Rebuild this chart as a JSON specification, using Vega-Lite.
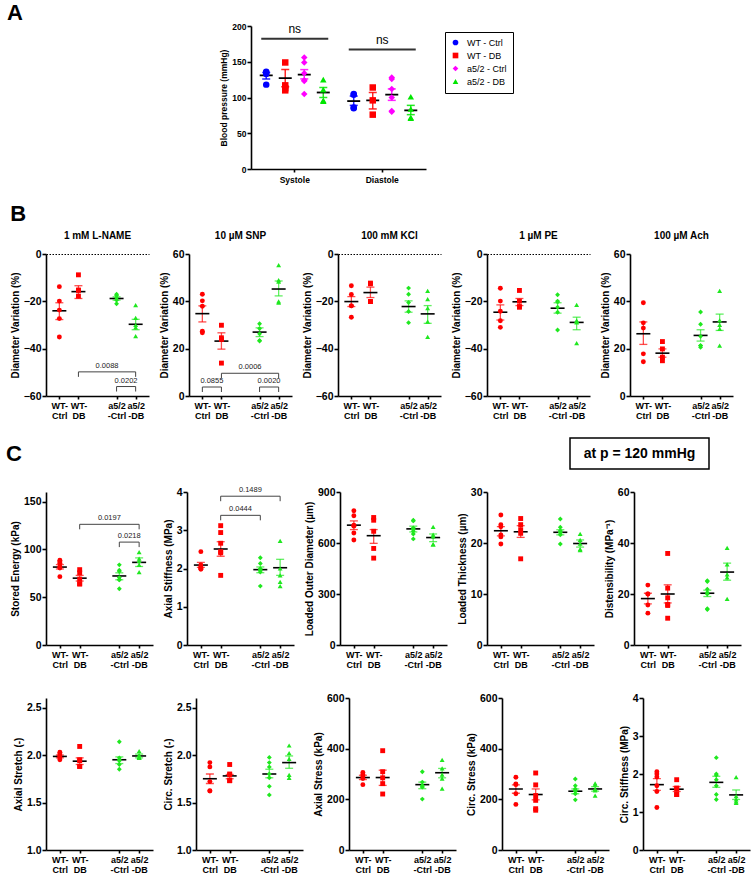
{
"$schema":"https://vega.github.io/schema/vega-lite/v6.json",
"padding":{"left":6,"top":1,"right":2,"bottom":0},
"config":{
 "view":{"stroke":null},
 "font":"Liberation Sans",
 "axis":{"domainColor":"#000","domainWidth":1.6,"tickColor":"#000","tickWidth":1.6,"tickSize":4,"labelColor":"#000","labelFont":"Liberation Sans","labelFontWeight":"bold","labelFontSize":10.5,"labelPadding":1,"titleFont":"Liberation Sans","titleFontWeight":"bold","titleFontSize":10,"titleColor":"#000","titlePadding":3,"grid":false},
 "axisX":{"labelFontSize":9,"tickSize":3,"labelPadding":2,"labelLineHeight":10.5},
 "title":{"font":"Liberation Sans","fontSize":10,"fontWeight":"bold","color":"#000","offset":8},
 "text":{"font":"Liberation Sans","color":"#000"}
},
"datasets":{
 "apts":[
  {"c":"Systole","g":"WT - Ctrl","v":136},{"c":"Systole","g":"WT - Ctrl","v":135},{"c":"Systole","g":"WT - Ctrl","v":133},{"c":"Systole","g":"WT - Ctrl","v":118},
  {"c":"Systole","g":"WT - DB","v":149},{"c":"Systole","g":"WT - DB","v":117},{"c":"Systole","g":"WT - DB","v":113},{"c":"Systole","g":"WT - DB","v":110},
  {"c":"Systole","g":"a5/2 - Ctrl","v":156},{"c":"Systole","g":"a5/2 - Ctrl","v":149},{"c":"Systole","g":"a5/2 - Ctrl","v":134},{"c":"Systole","g":"a5/2 - Ctrl","v":124},{"c":"Systole","g":"a5/2 - Ctrl","v":123},{"c":"Systole","g":"a5/2 - Ctrl","v":105},
  {"c":"Systole","g":"a5/2 - DB","v":125},{"c":"Systole","g":"a5/2 - DB","v":111},{"c":"Systole","g":"a5/2 - DB","v":96},{"c":"Systole","g":"a5/2 - DB","v":95},
  {"c":"Diastole","g":"WT - Ctrl","v":105},{"c":"Diastole","g":"WT - Ctrl","v":104},{"c":"Diastole","g":"WT - Ctrl","v":86},{"c":"Diastole","g":"WT - Ctrl","v":85},
  {"c":"Diastole","g":"WT - DB","v":114},{"c":"Diastole","g":"WT - DB","v":96},{"c":"Diastole","g":"WT - DB","v":76},
  {"c":"Diastole","g":"a5/2 - Ctrl","v":128},{"c":"Diastole","g":"a5/2 - Ctrl","v":126},{"c":"Diastole","g":"a5/2 - Ctrl","v":112},{"c":"Diastole","g":"a5/2 - Ctrl","v":100},{"c":"Diastole","g":"a5/2 - Ctrl","v":81},{"c":"Diastole","g":"a5/2 - Ctrl","v":80},
  {"c":"Diastole","g":"a5/2 - DB","v":101},{"c":"Diastole","g":"a5/2 - DB","v":84},{"c":"Diastole","g":"a5/2 - DB","v":72},{"c":"Diastole","g":"a5/2 - DB","v":71}
 ],
 "asm":[
  {"c":"Systole","g":"WT - Ctrl","m":131,"lo":126,"hi":135},
  {"c":"Systole","g":"WT - DB","m":127,"lo":115,"hi":139},
  {"c":"Systole","g":"a5/2 - Ctrl","m":132,"lo":126,"hi":139},
  {"c":"Systole","g":"a5/2 - DB","m":107,"lo":100,"hi":114},
  {"c":"Diastole","g":"WT - Ctrl","m":95,"lo":89,"hi":102},
  {"c":"Diastole","g":"WT - DB","m":96,"lo":84,"hi":107},
  {"c":"Diastole","g":"a5/2 - Ctrl","m":104,"lo":96,"hi":112},
  {"c":"Diastole","g":"a5/2 - DB","m":82,"lo":76,"hi":89}
 ],
 "ans":[{"c":"Systole","y":182,"t":"ns"},{"c":"Diastole","y":167,"t":"ns"}],
 "pts":[
  {"p":"B1","g":"WC","v":-13.8},{"p":"B1","g":"WC","v":-19.9},{"p":"B1","g":"WC","v":-23.7},{"p":"B1","g":"WC","v":-27.3},{"p":"B1","g":"WC","v":-35.1},
  {"p":"B1","g":"WD","v":-8.8},{"p":"B1","g":"WD","v":-15.3},{"p":"B1","g":"WD","v":-15.3},{"p":"B1","g":"WD","v":-17.8},
  {"p":"B1","g":"AC","v":-17},{"p":"B1","g":"AC","v":-17.5},{"p":"B1","g":"AC","v":-18.5},{"p":"B1","g":"AC","v":-19.5},{"p":"B1","g":"AC","v":-21},
  {"p":"B1","g":"AD","v":-21.6},{"p":"B1","g":"AD","v":-27},{"p":"B1","g":"AD","v":-30},{"p":"B1","g":"AD","v":-31},{"p":"B1","g":"AD","v":-34.7},
  {"p":"B2","g":"WC","v":43},{"p":"B2","g":"WC","v":40.2},{"p":"B2","g":"WC","v":37.9},{"p":"B2","g":"WC","v":27.4},{"p":"B2","g":"WC","v":26.7},
  {"p":"B2","g":"WD","v":29.9},{"p":"B2","g":"WD","v":24.6},{"p":"B2","g":"WD","v":23.9},{"p":"B2","g":"WD","v":13.9},
  {"p":"B2","g":"AC","v":30.5},{"p":"B2","g":"AC","v":28.5},{"p":"B2","g":"AC","v":26.3},{"p":"B2","g":"AC","v":23.5},{"p":"B2","g":"AC","v":23.2},
  {"p":"B2","g":"AD","v":55.3},{"p":"B2","g":"AD","v":49},{"p":"B2","g":"AD","v":48.3},{"p":"B2","g":"AD","v":40},{"p":"B2","g":"AD","v":39.5},
  {"p":"B3","g":"WC","v":-13.4},{"p":"B3","g":"WC","v":-17.1},{"p":"B3","g":"WC","v":-21.9},{"p":"B3","g":"WC","v":-21.9},{"p":"B3","g":"WC","v":-26.7},
  {"p":"B3","g":"WD","v":-12.3},{"p":"B3","g":"WD","v":-12.6},{"p":"B3","g":"WD","v":-20.1},{"p":"B3","g":"WD","v":-20.1},
  {"p":"B3","g":"AC","v":-14.4},{"p":"B3","g":"AC","v":-17},{"p":"B3","g":"AC","v":-20.5},{"p":"B3","g":"AC","v":-24.3},{"p":"B3","g":"AC","v":-29},
  {"p":"B3","g":"AD","v":-15.6},{"p":"B3","g":"AD","v":-19.1},{"p":"B3","g":"AD","v":-22.9},{"p":"B3","g":"AD","v":-28.6},{"p":"B3","g":"AD","v":-35},
  {"p":"B4","g":"WC","v":-14.5},{"p":"B4","g":"WC","v":-19.9},{"p":"B4","g":"WC","v":-24.2},{"p":"B4","g":"WC","v":-28.2},{"p":"B4","g":"WC","v":-31},
  {"p":"B4","g":"WD","v":-15.4},{"p":"B4","g":"WD","v":-19.9},{"p":"B4","g":"WD","v":-22.2},{"p":"B4","g":"WD","v":-22.5},
  {"p":"B4","g":"AC","v":-17.2},{"p":"B4","g":"AC","v":-19.9},{"p":"B4","g":"AC","v":-20.3},{"p":"B4","g":"AC","v":-22.5},{"p":"B4","g":"AC","v":-24.6},{"p":"B4","g":"AC","v":-32.1},
  {"p":"B4","g":"AD","v":-21.5},{"p":"B4","g":"AD","v":-28.2},{"p":"B4","g":"AD","v":-28.4},{"p":"B4","g":"AD","v":-28.9},{"p":"B4","g":"AD","v":-37.7},
  {"p":"B5","g":"WC","v":39.4},{"p":"B5","g":"WC","v":30.9},{"p":"B5","g":"WC","v":28.7},{"p":"B5","g":"WC","v":17.8},{"p":"B5","g":"WC","v":14.5},
  {"p":"B5","g":"WD","v":23},{"p":"B5","g":"WD","v":19.9},{"p":"B5","g":"WD","v":16.4},{"p":"B5","g":"WD","v":14.9},
  {"p":"B5","g":"AC","v":35.5},{"p":"B5","g":"AC","v":30.3},{"p":"B5","g":"AC","v":25.2},{"p":"B5","g":"AC","v":21.3},{"p":"B5","g":"AC","v":21.3},{"p":"B5","g":"AC","v":20.6},
  {"p":"B5","g":"AD","v":44.4},{"p":"B5","g":"AD","v":32},{"p":"B5","g":"AD","v":30.1},{"p":"B5","g":"AD","v":28.4},{"p":"B5","g":"AD","v":21.3},
  {"p":"C1","g":"WC","v":88.7},{"p":"C1","g":"WC","v":87},{"p":"C1","g":"WC","v":85.5},{"p":"C1","g":"WC","v":81.5},{"p":"C1","g":"WC","v":81.5},{"p":"C1","g":"WC","v":80.5},{"p":"C1","g":"WC","v":71.5},
  {"p":"C1","g":"WD","v":78.8},{"p":"C1","g":"WD","v":75.5},{"p":"C1","g":"WD","v":68.9},{"p":"C1","g":"WD","v":63.9},{"p":"C1","g":"WD","v":63.9},
  {"p":"C1","g":"AC","v":83.8},{"p":"C1","g":"AC","v":78.1},{"p":"C1","g":"AC","v":77.2},{"p":"C1","g":"AC","v":70.5},{"p":"C1","g":"AC","v":68.2},{"p":"C1","g":"AC","v":68.2},{"p":"C1","g":"AC","v":58.9},
  {"p":"C1","g":"AD","v":97},{"p":"C1","g":"AD","v":90.4},{"p":"C1","g":"AD","v":88.1},{"p":"C1","g":"AD","v":83.8},{"p":"C1","g":"AD","v":76.2},
  {"p":"C2","g":"WC","v":2.44},{"p":"C2","g":"WC","v":2.09},{"p":"C2","g":"WC","v":2.04},{"p":"C2","g":"WC","v":2.02},{"p":"C2","g":"WC","v":2.0},{"p":"C2","g":"WC","v":1.98},
  {"p":"C2","g":"WD","v":3.12},{"p":"C2","g":"WD","v":2.94},{"p":"C2","g":"WD","v":2.66},{"p":"C2","g":"WD","v":2.44},{"p":"C2","g":"WD","v":2.41},{"p":"C2","g":"WD","v":1.82},
  {"p":"C2","g":"AC","v":2.28},{"p":"C2","g":"AC","v":2.13},{"p":"C2","g":"AC","v":2.0},{"p":"C2","g":"AC","v":1.96},{"p":"C2","g":"AC","v":1.96},{"p":"C2","g":"AC","v":1.91},{"p":"C2","g":"AC","v":1.54},
  {"p":"C2","g":"AD","v":2.72},{"p":"C2","g":"AD","v":2.0},{"p":"C2","g":"AD","v":1.82},{"p":"C2","g":"AD","v":1.65},{"p":"C2","g":"AD","v":1.54},
  {"p":"C3","g":"WC","v":790},{"p":"C3","g":"WC","v":760},{"p":"C3","g":"WC","v":705},{"p":"C3","g":"WC","v":699},{"p":"C3","g":"WC","v":659},{"p":"C3","g":"WC","v":618},
  {"p":"C3","g":"WD","v":750},{"p":"C3","g":"WD","v":734},{"p":"C3","g":"WD","v":669},{"p":"C3","g":"WD","v":568},{"p":"C3","g":"WD","v":511},
  {"p":"C3","g":"AC","v":734},{"p":"C3","g":"AC","v":730},{"p":"C3","g":"AC","v":689},{"p":"C3","g":"AC","v":683},{"p":"C3","g":"AC","v":679},{"p":"C3","g":"AC","v":669},{"p":"C3","g":"AC","v":653},{"p":"C3","g":"AC","v":624},
  {"p":"C3","g":"AD","v":695},{"p":"C3","g":"AD","v":649},{"p":"C3","g":"AD","v":639},{"p":"C3","g":"AD","v":592},{"p":"C3","g":"AD","v":592},
  {"p":"C4","g":"WC","v":25.5},{"p":"C4","g":"WC","v":23.6},{"p":"C4","g":"WC","v":23.2},{"p":"C4","g":"WC","v":21.6},{"p":"C4","g":"WC","v":21.2},{"p":"C4","g":"WC","v":19.8},
  {"p":"C4","g":"WD","v":24.8},{"p":"C4","g":"WD","v":23.6},{"p":"C4","g":"WD","v":22.6},{"p":"C4","g":"WD","v":21.9},{"p":"C4","g":"WD","v":16.9},
  {"p":"C4","g":"AC","v":24.7},{"p":"C4","g":"AC","v":23.1},{"p":"C4","g":"AC","v":22.4},{"p":"C4","g":"AC","v":22.1},{"p":"C4","g":"AC","v":22},{"p":"C4","g":"AC","v":21.6},{"p":"C4","g":"AC","v":19.8},
  {"p":"C4","g":"AD","v":21.8},{"p":"C4","g":"AD","v":20.6},{"p":"C4","g":"AD","v":19.9},{"p":"C4","g":"AD","v":18.8},{"p":"C4","g":"AD","v":18.6},
  {"p":"C5","g":"WC","v":23.5},{"p":"C5","g":"WC","v":20},{"p":"C5","g":"WC","v":20},{"p":"C5","g":"WC","v":15.7},{"p":"C5","g":"WC","v":12.5},
  {"p":"C5","g":"WD","v":35.9},{"p":"C5","g":"WD","v":22.3},{"p":"C5","g":"WD","v":18.5},{"p":"C5","g":"WD","v":15.9},{"p":"C5","g":"WD","v":15.5},{"p":"C5","g":"WD","v":10.5},
  {"p":"C5","g":"AC","v":25.2},{"p":"C5","g":"AC","v":24.9},{"p":"C5","g":"AC","v":21.9},{"p":"C5","g":"AC","v":20.6},{"p":"C5","g":"AC","v":20},{"p":"C5","g":"AC","v":14.2},{"p":"C5","g":"AC","v":13.9},
  {"p":"C5","g":"AD","v":38.1},{"p":"C5","g":"AD","v":31.6},{"p":"C5","g":"AD","v":27.7},{"p":"C5","g":"AD","v":26.5},{"p":"C5","g":"AD","v":18.1},
  {"p":"C6","g":"WC","v":2.03},{"p":"C6","g":"WC","v":2.01},{"p":"C6","g":"WC","v":1.99},{"p":"C6","g":"WC","v":1.98},{"p":"C6","g":"WC","v":1.97},{"p":"C6","g":"WC","v":1.95},
  {"p":"C6","g":"WD","v":2.09},{"p":"C6","g":"WD","v":1.95},{"p":"C6","g":"WD","v":1.94},{"p":"C6","g":"WD","v":1.88},{"p":"C6","g":"WD","v":1.88},
  {"p":"C6","g":"AC","v":2.14},{"p":"C6","g":"AC","v":1.97},{"p":"C6","g":"AC","v":1.95},{"p":"C6","g":"AC","v":1.94},{"p":"C6","g":"AC","v":1.90},{"p":"C6","g":"AC","v":1.85},
  {"p":"C6","g":"AD","v":2.04},{"p":"C6","g":"AD","v":2.0},{"p":"C6","g":"AD","v":1.98},{"p":"C6","g":"AD","v":1.97},{"p":"C6","g":"AD","v":1.97},
  {"p":"C7","g":"WC","v":1.92},{"p":"C7","g":"WC","v":1.875},{"p":"C7","g":"WC","v":1.72},{"p":"C7","g":"WC","v":1.625},{"p":"C7","g":"WC","v":1.62},
  {"p":"C7","g":"WD","v":1.90},{"p":"C7","g":"WD","v":1.80},{"p":"C7","g":"WD","v":1.79},{"p":"C7","g":"WD","v":1.73},{"p":"C7","g":"WD","v":1.73},
  {"p":"C7","g":"AC","v":1.975},{"p":"C7","g":"AC","v":1.92},{"p":"C7","g":"AC","v":1.875},{"p":"C7","g":"AC","v":1.80},{"p":"C7","g":"AC","v":1.76},{"p":"C7","g":"AC","v":1.67},{"p":"C7","g":"AC","v":1.58},
  {"p":"C7","g":"AD","v":2.10},{"p":"C7","g":"AD","v":2.02},{"p":"C7","g":"AD","v":1.96},{"p":"C7","g":"AD","v":1.79},{"p":"C7","g":"AD","v":1.76},
  {"p":"C8","g":"WC","v":306},{"p":"C8","g":"WC","v":298},{"p":"C8","g":"WC","v":289},{"p":"C8","g":"WC","v":282},{"p":"C8","g":"WC","v":258},
  {"p":"C8","g":"WD","v":392},{"p":"C8","g":"WD","v":309},{"p":"C8","g":"WD","v":285},{"p":"C8","g":"WD","v":262},{"p":"C8","g":"WD","v":221},
  {"p":"C8","g":"AC","v":309},{"p":"C8","g":"AC","v":268},{"p":"C8","g":"AC","v":255},{"p":"C8","g":"AC","v":252},{"p":"C8","g":"AC","v":248},{"p":"C8","g":"AC","v":201},
  {"p":"C8","g":"AD","v":356},{"p":"C8","g":"AD","v":322},{"p":"C8","g":"AD","v":298},{"p":"C8","g":"AD","v":282},{"p":"C8","g":"AD","v":242},
  {"p":"C9","g":"WC","v":287},{"p":"C9","g":"WC","v":261},{"p":"C9","g":"WC","v":258},{"p":"C9","g":"WC","v":222},{"p":"C9","g":"WC","v":180},
  {"p":"C9","g":"WD","v":304},{"p":"C9","g":"WD","v":257},{"p":"C9","g":"WD","v":215},{"p":"C9","g":"WD","v":196},{"p":"C9","g":"WD","v":163},{"p":"C9","g":"WD","v":157},
  {"p":"C9","g":"AC","v":280},{"p":"C9","g":"AC","v":254},{"p":"C9","g":"AC","v":241},{"p":"C9","g":"AC","v":235},{"p":"C9","g":"AC","v":232},{"p":"C9","g":"AC","v":222},{"p":"C9","g":"AC","v":198},
  {"p":"C9","g":"AD","v":263},{"p":"C9","g":"AD","v":258},{"p":"C9","g":"AD","v":241},{"p":"C9","g":"AD","v":235},{"p":"C9","g":"AD","v":215},
  {"p":"C10","g":"WC","v":2.06},{"p":"C10","g":"WC","v":2.0},{"p":"C10","g":"WC","v":1.92},{"p":"C10","g":"WC","v":1.69},{"p":"C10","g":"WC","v":1.54},{"p":"C10","g":"WC","v":1.12},
  {"p":"C10","g":"WD","v":1.85},{"p":"C10","g":"WD","v":1.63},{"p":"C10","g":"WD","v":1.60},{"p":"C10","g":"WD","v":1.46},{"p":"C10","g":"WD","v":1.46},
  {"p":"C10","g":"AC","v":2.43},{"p":"C10","g":"AC","v":2.0},{"p":"C10","g":"AC","v":1.97},{"p":"C10","g":"AC","v":1.85},{"p":"C10","g":"AC","v":1.69},{"p":"C10","g":"AC","v":1.46},{"p":"C10","g":"AC","v":1.33},
  {"p":"C10","g":"AD","v":1.92},{"p":"C10","g":"AD","v":1.42},{"p":"C10","g":"AD","v":1.33},{"p":"C10","g":"AD","v":1.28},{"p":"C10","g":"AD","v":1.24}
 ],
 "sm":[
  {"p":"B1","g":"WC","m":-24,"lo":-20.6,"hi":-27.7},{"p":"B1","g":"WD","m":-15.9,"lo":-13.4,"hi":-18.8},{"p":"B1","g":"AC","m":-18.8,"lo":-18.1,"hi":-19.5},{"p":"B1","g":"AD","m":-29.7,"lo":-27.6,"hi":-32},
  {"p":"B2","g":"WC","m":34.8,"lo":31.3,"hi":38.1},{"p":"B2","g":"WD","m":23.2,"lo":19.8,"hi":26.7},{"p":"B2","g":"AC","m":27,"lo":25.1,"hi":28.8},{"p":"B2","g":"AD","m":45.2,"lo":42.3,"hi":48.6},
  {"p":"B3","g":"WC","m":-20.1,"lo":-18,"hi":-22.2},{"p":"B3","g":"WD","m":-16.3,"lo":-14,"hi":-18.4},{"p":"B3","g":"AC","m":-22.2,"lo":-19.8,"hi":-24.6},{"p":"B3","g":"AD","m":-25.3,"lo":-21.8,"hi":-29.3},
  {"p":"B4","g":"WC","m":-24.6,"lo":-21.5,"hi":-27.9},{"p":"B4","g":"WD","m":-20.2,"lo":-18.8,"hi":-21.8},{"p":"B4","g":"AC","m":-22.9,"lo":-20.6,"hi":-25},{"p":"B4","g":"AD","m":-28.9,"lo":-26.7,"hi":-32},
  {"p":"B5","g":"WC","m":26.3,"lo":21.8,"hi":31.3},{"p":"B5","g":"WD","m":18.1,"lo":16.4,"hi":19.9},{"p":"B5","g":"AC","m":25.6,"lo":23.2,"hi":28},{"p":"B5","g":"AD","m":31.3,"lo":27.7,"hi":34.6},
  {"p":"C1","g":"WC","m":81.5,"lo":79.5,"hi":84.1},{"p":"C1","g":"WD","m":69.9,"lo":66.9,"hi":72.8},{"p":"C1","g":"AC","m":72.2,"lo":68.2,"hi":75.5},{"p":"C1","g":"AD","m":86.4,"lo":82.1,"hi":91.1},
  {"p":"C2","g":"WC","m":2.09,"lo":2.03,"hi":2.16},{"p":"C2","g":"WD","m":2.51,"lo":2.32,"hi":2.7},{"p":"C2","g":"AC","m":1.97,"lo":1.89,"hi":2.04},{"p":"C2","g":"AD","m":2.02,"lo":1.82,"hi":2.24},
  {"p":"C3","g":"WC","m":705,"lo":679,"hi":730},{"p":"C3","g":"WD","m":643,"lo":598,"hi":679},{"p":"C3","g":"AC","m":683,"lo":665,"hi":699},{"p":"C3","g":"AD","m":632,"lo":608,"hi":653},
  {"p":"C4","g":"WC","m":22.4,"lo":21.4,"hi":23.2},{"p":"C4","g":"WD","m":22.2,"lo":21.1,"hi":23.4},{"p":"C4","g":"AC","m":22.1,"lo":21.6,"hi":22.6},{"p":"C4","g":"AD","m":19.9,"lo":19.2,"hi":20.6},
  {"p":"C5","g":"WC","m":18.2,"lo":16.1,"hi":20.3},{"p":"C5","g":"WD","m":20,"lo":16.5,"hi":23.6},{"p":"C5","g":"AC","m":20.3,"lo":19,"hi":21.5},{"p":"C5","g":"AD","m":28.6,"lo":25.4,"hi":32.1},
  {"p":"C6","g":"WC","m":1.985,"lo":1.97,"hi":2.0},{"p":"C6","g":"WD","m":1.935,"lo":1.9,"hi":1.97},{"p":"C6","g":"AC","m":1.95,"lo":1.91,"hi":1.98},{"p":"C6","g":"AD","m":1.99,"lo":1.97,"hi":2.01},
  {"p":"C7","g":"WC","m":1.75,"lo":1.7,"hi":1.8},{"p":"C7","g":"WD","m":1.78,"lo":1.75,"hi":1.795},{"p":"C7","g":"AC","m":1.8,"lo":1.76,"hi":1.85},{"p":"C7","g":"AD","m":1.92,"lo":1.86,"hi":1.99},
  {"p":"C8","g":"WC","m":286,"lo":278,"hi":295},{"p":"C8","g":"WD","m":286,"lo":255,"hi":315},{"p":"C8","g":"AC","m":258,"lo":242,"hi":268},{"p":"C8","g":"AD","m":305,"lo":285,"hi":322},
  {"p":"C9","g":"WC","m":241,"lo":224,"hi":257},{"p":"C9","g":"WD","m":219,"lo":198,"hi":241},{"p":"C9","g":"AC","m":232,"lo":222,"hi":241},{"p":"C9","g":"AD","m":241,"lo":232,"hi":250},
  {"p":"C10","g":"WC","m":1.72,"lo":1.57,"hi":1.88},{"p":"C10","g":"WD","m":1.6,"lo":1.54,"hi":1.67},{"p":"C10","g":"AC","m":1.78,"lo":1.65,"hi":1.94},{"p":"C10","g":"AD","m":1.45,"lo":1.33,"hi":1.58}
 ],
 "br":[
  {"p":"B1","a":"WD","b":"AD","y":-49.8,"t":"0.0088"},{"p":"B1","a":"AC","b":"AD","y":-56,"t":"0.0202"},
  {"p":"B2","a":"WC","b":"WD","y":3.8,"t":"0.0855"},{"p":"B2","a":"WD","b":"AD","y":9.6,"t":"0.0006"},{"p":"B2","a":"AC","b":"AD","y":3.8,"t":"0.0020"},
  {"p":"C1","a":"WD","b":"AD","y":126.2,"t":"0.0197"},{"p":"C1","a":"AC","b":"AD","y":107.6,"t":"0.0218"},
  {"p":"C2","a":"WD","b":"AD","y":3.89,"t":"0.1489"},{"p":"C2","a":"WD","b":"AC","y":3.39,"t":"0.0444"}
 ]
},
"resolve":{"scale":{"color":"independent","shape":"independent"}},
"spacing":23,
"vconcat":[
{"resolve":{"scale":{"color":"independent","shape":"independent"}},"spacing":16,"vconcat":[
 {"resolve":{"scale":{"color":"independent","shape":"independent"}},"hconcat":[
  {"width":147,"height":161,"data":{"values":[{}]},"mark":{"type":"text","text":"A","fontSize":22,"fontWeight":"bold","dx":-104.5,"dy":-94}},
  {"width":175,"height":143,
   "encoding":{"x":{"field":"c","type":"nominal","title":null,"scale":{"domain":["Systole","Diastole"],"paddingInner":0,"paddingOuter":0},"axis":{"labelAngle":0,"labelFontSize":8.5,"labelPadding":3}}},
   "layer":[
    {"data":{"name":"ans"},"mark":{"type":"tick","orient":"horizontal","size":67,"thickness":2,"color":"#333","opacity":1},"encoding":{"y":{"field":"y","type":"quantitative","title":"Blood pressure (mmHg)","scale":{"domain":[0,200]},"axis":{"values":[0,50,100,150,200],"tickCount":10,"labelFontSize":8.5,"titleFontSize":8.5}}}},
    {"data":{"name":"ans"},"mark":{"type":"text","dy":-10,"fontSize":12,"fontWeight":"normal"},"encoding":{"y":{"field":"y","type":"quantitative","title":"Blood pressure (mmHg)"},"text":{"field":"t"}}},
    {"data":{"name":"asm"},"mark":{"type":"rule","strokeWidth":1.5,"opacity":0.85},"encoding":{"xOffset":{"field":"g","type":"nominal","scale":{"domain":["WT - Ctrl","WT - DB","a5/2 - Ctrl","a5/2 - DB"],"paddingOuter":0.3,"paddingInner":0}},"y":{"field":"lo","type":"quantitative","title":"Blood pressure (mmHg)"},"y2":{"field":"hi"},"stroke":{"field":"g","type":"nominal","scale":{"domain":["WT - Ctrl","WT - DB","a5/2 - Ctrl","a5/2 - DB"],"range":["#0000ff","#ff0000","#ff00ff","#00e600"]},"legend":null}}},
    {"data":{"name":"asm"},"transform":[{"fold":["lo","hi"]}],"mark":{"type":"tick","orient":"horizontal","size":8,"thickness":1.5,"opacity":0.85},"encoding":{"xOffset":{"field":"g","type":"nominal"},"y":{"field":"value","type":"quantitative","title":"Blood pressure (mmHg)"},"fill":{"field":"g","type":"nominal","scale":{"domain":["WT - Ctrl","WT - DB","a5/2 - Ctrl","a5/2 - DB"],"range":["#0000ff","#ff0000","#ff00ff","#00e600"]},"legend":null}}},
    {"data":{"name":"asm"},"mark":{"type":"tick","orient":"horizontal","size":13,"thickness":1.8,"color":"#000","opacity":1},"encoding":{"xOffset":{"field":"g","type":"nominal"},"y":{"field":"m","type":"quantitative","title":"Blood pressure (mmHg)"}}},
    {"data":{"name":"apts"},"mark":{"type":"point","filled":true,"size":42,"opacity":1},"encoding":{"xOffset":{"field":"g","type":"nominal"},"y":{"field":"v","type":"quantitative","title":"Blood pressure (mmHg)"},
      "color":{"field":"g","type":"nominal","scale":{"domain":["WT - Ctrl","WT - DB","a5/2 - Ctrl","a5/2 - DB"],"range":["#0000ff","#ff0000","#ff00ff","#00e600"]},"legend":{"orient":"none","legendX":194,"legendY":6,"title":null,"strokeColor":"#000","padding":6,"labelFontSize":9,"labelFont":"Liberation Sans","labelColor":"#000","symbolSize":32,"rowPadding":3,"labelOffset":7}},
      "shape":{"field":"g","type":"nominal","scale":{"domain":["WT - Ctrl","WT - DB","a5/2 - Ctrl","a5/2 - DB"],"range":["circle","square","diamond","triangle-up"]},"legend":{"orient":"none","legendX":194,"legendY":6,"title":null,"strokeColor":"#000","padding":6,"labelFontSize":9,"labelFont":"Liberation Sans","labelColor":"#000","symbolSize":32,"rowPadding":3,"labelOffset":7}}}}
   ]}
 ],"spacing":26},
 {"title":{"text":"B","anchor":"start","fontSize":22,"offset":5},"spacing":10,"resolve":{"scale":{"color":"independent","shape":"independent"}},"hconcat":[
  {"width":103,"height":142,"title":"1 mM L-NAME",
   "encoding":{"x":{"field":"g","type":"nominal","title":null,"scale":{"type":"point","domain":["WC","WD","G","AC","AD"],"padding":0.7},"axis":{"values":["WC","WD","AC","AD"],"labelAngle":0,"labelExpr":"datum.value=='WC'?['WT-','Ctrl']:datum.value=='WD'?['WT-','DB']:datum.value=='AC'?['a5/2','-Ctrl']:['a5/2','-DB']"}}},
   "layer":[
    {"data":{"name":"sm"},"transform":[{"filter":"datum.p=='B1'"}],"mark":{"type":"rule","strokeWidth":1.3,"opacity":0.7},"encoding":{"y":{"field":"lo","type":"quantitative","title":"Diameter Variation (%)","scale":{"domain":[-60,0]},"axis":{"values":[-60,-40,-20,0],"tickCount":10,"grid":true,"gridDash":[1.5,1.5],"gridColor":"#000","gridOpacity":{"condition":{"test":"datum.value===0","value":1},"value":0}}},"y2":{"field":"hi"},"color":{"field":"g","type":"nominal","scale":{"domain":["WC","WD","AC","AD"],"range":["#ff0000","#ff0000","#1fe81f","#1fe81f"]},"legend":null}}},
    {"data":{"name":"sm"},"transform":[{"filter":"datum.p=='B1'"},{"fold":["lo","hi"]}],"mark":{"type":"tick","orient":"horizontal","size":8,"thickness":1.3,"opacity":0.7},"encoding":{"y":{"field":"value","type":"quantitative","title":"Diameter Variation (%)"},"color":{"field":"g","type":"nominal","legend":null}}},
    {"data":{"name":"sm"},"transform":[{"filter":"datum.p=='B1'"}],"mark":{"type":"tick","orient":"horizontal","size":14,"thickness":1.6,"color":"#000","opacity":1},"encoding":{"y":{"field":"m","type":"quantitative","title":"Diameter Variation (%)"}}},
    {"data":{"name":"pts"},"transform":[{"filter":"datum.p=='B1'"}],"mark":{"type":"point","filled":true,"size":24,"opacity":1},"encoding":{"y":{"field":"v","type":"quantitative","title":"Diameter Variation (%)"},"color":{"field":"g","type":"nominal","legend":null},"shape":{"field":"g","type":"nominal","scale":{"domain":["WC","WD","AC","AD"],"range":["circle","square","diamond","triangle-up"]},"legend":null}}},
    {"data":{"name":"br"},"transform":[{"filter":"datum.p=='B1'"}],"mark":{"type":"rule","strokeWidth":1,"color":"#444"},"encoding":{"x":{"field":"a","type":"nominal","title":null,"scale":{"type":"point","domain":["WC","WD","G","AC","AD"],"padding":0.7}},"x2":{"field":"b"},"y":{"field":"y","type":"quantitative","title":"Diameter Variation (%)"}}},
    {"data":{"name":"br"},"transform":[{"filter":"datum.p=='B1'"},{"fold":["a","b"],"as":["k","e"]}],"mark":{"type":"rule","strokeWidth":1,"color":"#444","y2Offset":5},"encoding":{"x":{"field":"e","type":"nominal","title":null,"scale":{"type":"point","domain":["WC","WD","G","AC","AD"],"padding":0.7}},"y":{"field":"y","type":"quantitative","title":"Diameter Variation (%)"},"y2":{"field":"y"}}},
    {"data":{"name":"br"},"transform":[{"filter":"datum.p=='B1' && datum.a=='WD'"}],"mark":{"type":"text","dx":28.6,"dy":-6,"fontSize":7.5,"color":"#222"},"encoding":{"x":{"field":"a","type":"nominal","title":null,"scale":{"type":"point","domain":["WC","WD","G","AC","AD"],"padding":0.7}},"y":{"field":"y","type":"quantitative","title":"Diameter Variation (%)"},"text":{"field":"t"}}},
    {"data":{"name":"br"},"transform":[{"filter":"datum.p=='B1' && datum.a!='WD'"}],"mark":{"type":"text","dx":9.5,"dy":-6,"fontSize":7.5,"color":"#222"},"encoding":{"x":{"field":"a","type":"nominal","title":null,"scale":{"type":"point","domain":["WC","WD","G","AC","AD"],"padding":0.7}},"y":{"field":"y","type":"quantitative","title":"Diameter Variation (%)"},"text":{"field":"t"}}}
   ]},
  {"width":103,"height":142,"title":"10 µM SNP",
   "encoding":{"x":{"field":"g","type":"nominal","title":null,"scale":{"type":"point","domain":["WC","WD","G","AC","AD"],"padding":0.7},"axis":{"values":["WC","WD","AC","AD"],"labelAngle":0,"labelExpr":"datum.value=='WC'?['WT-','Ctrl']:datum.value=='WD'?['WT-','DB']:datum.value=='AC'?['a5/2','-Ctrl']:['a5/2','-DB']"}}},
   "layer":[
    {"data":{"name":"sm"},"transform":[{"filter":"datum.p=='B2'"}],"mark":{"type":"rule","strokeWidth":1.3,"opacity":0.7},"encoding":{"y":{"field":"lo","type":"quantitative","title":"Diameter Variation (%)","scale":{"domain":[0,60]},"axis":{"values":[0,20,40,60],"tickCount":10}},"y2":{"field":"hi"},"color":{"field":"g","type":"nominal","scale":{"domain":["WC","WD","AC","AD"],"range":["#ff0000","#ff0000","#1fe81f","#1fe81f"]},"legend":null}}},
    {"data":{"name":"sm"},"transform":[{"filter":"datum.p=='B2'"},{"fold":["lo","hi"]}],"mark":{"type":"tick","orient":"horizontal","size":8,"thickness":1.3,"opacity":0.7},"encoding":{"y":{"field":"value","type":"quantitative","title":"Diameter Variation (%)"},"color":{"field":"g","type":"nominal","legend":null}}},
    {"data":{"name":"sm"},"transform":[{"filter":"datum.p=='B2'"}],"mark":{"type":"tick","orient":"horizontal","size":14,"thickness":1.6,"color":"#000","opacity":1},"encoding":{"y":{"field":"m","type":"quantitative","title":"Diameter Variation (%)"}}},
    {"data":{"name":"pts"},"transform":[{"filter":"datum.p=='B2'"}],"mark":{"type":"point","filled":true,"size":24,"opacity":1},"encoding":{"y":{"field":"v","type":"quantitative","title":"Diameter Variation (%)"},"color":{"field":"g","type":"nominal","legend":null},"shape":{"field":"g","type":"nominal","scale":{"domain":["WC","WD","AC","AD"],"range":["circle","square","diamond","triangle-up"]},"legend":null}}},
    {"data":{"name":"br"},"transform":[{"filter":"datum.p=='B2'"}],"mark":{"type":"rule","strokeWidth":1,"color":"#444"},"encoding":{"x":{"field":"a","type":"nominal","title":null,"scale":{"type":"point","domain":["WC","WD","G","AC","AD"],"padding":0.7}},"x2":{"field":"b"},"y":{"field":"y","type":"quantitative","title":"Diameter Variation (%)"}}},
    {"data":{"name":"br"},"transform":[{"filter":"datum.p=='B2'"},{"fold":["a","b"],"as":["k","e"]}],"mark":{"type":"rule","strokeWidth":1,"color":"#444","y2Offset":5},"encoding":{"x":{"field":"e","type":"nominal","title":null,"scale":{"type":"point","domain":["WC","WD","G","AC","AD"],"padding":0.7}},"y":{"field":"y","type":"quantitative","title":"Diameter Variation (%)"},"y2":{"field":"y"}}},
    {"data":{"name":"br"},"transform":[{"filter":"datum.p=='B2' && datum.a=='WD'"}],"mark":{"type":"text","dx":28.6,"dy":-6,"fontSize":7.5,"color":"#222"},"encoding":{"x":{"field":"a","type":"nominal","title":null,"scale":{"type":"point","domain":["WC","WD","G","AC","AD"],"padding":0.7}},"y":{"field":"y","type":"quantitative","title":"Diameter Variation (%)"},"text":{"field":"t"}}},
    {"data":{"name":"br"},"transform":[{"filter":"datum.p=='B2' && datum.a!='WD'"}],"mark":{"type":"text","dx":9.5,"dy":-6,"fontSize":7.5,"color":"#222"},"encoding":{"x":{"field":"a","type":"nominal","title":null,"scale":{"type":"point","domain":["WC","WD","G","AC","AD"],"padding":0.7}},"y":{"field":"y","type":"quantitative","title":"Diameter Variation (%)"},"text":{"field":"t"}}}
   ]},
  {"width":103,"height":142,"title":"100 mM KCl",
   "encoding":{"x":{"field":"g","type":"nominal","title":null,"scale":{"type":"point","domain":["WC","WD","G","AC","AD"],"padding":0.7},"axis":{"values":["WC","WD","AC","AD"],"labelAngle":0,"labelExpr":"datum.value=='WC'?['WT-','Ctrl']:datum.value=='WD'?['WT-','DB']:datum.value=='AC'?['a5/2','-Ctrl']:['a5/2','-DB']"}}},
   "layer":[
    {"data":{"name":"sm"},"transform":[{"filter":"datum.p=='B3'"}],"mark":{"type":"rule","strokeWidth":1.3,"opacity":0.7},"encoding":{"y":{"field":"lo","type":"quantitative","title":"Diameter Variation (%)","scale":{"domain":[-60,0]},"axis":{"values":[-60,-40,-20,0],"tickCount":10,"grid":true,"gridDash":[1.5,1.5],"gridColor":"#000","gridOpacity":{"condition":{"test":"datum.value===0","value":1},"value":0}}},"y2":{"field":"hi"},"color":{"field":"g","type":"nominal","scale":{"domain":["WC","WD","AC","AD"],"range":["#ff0000","#ff0000","#1fe81f","#1fe81f"]},"legend":null}}},
    {"data":{"name":"sm"},"transform":[{"filter":"datum.p=='B3'"},{"fold":["lo","hi"]}],"mark":{"type":"tick","orient":"horizontal","size":8,"thickness":1.3,"opacity":0.7},"encoding":{"y":{"field":"value","type":"quantitative","title":"Diameter Variation (%)"},"color":{"field":"g","type":"nominal","legend":null}}},
    {"data":{"name":"sm"},"transform":[{"filter":"datum.p=='B3'"}],"mark":{"type":"tick","orient":"horizontal","size":14,"thickness":1.6,"color":"#000","opacity":1},"encoding":{"y":{"field":"m","type":"quantitative","title":"Diameter Variation (%)"}}},
    {"data":{"name":"pts"},"transform":[{"filter":"datum.p=='B3'"}],"mark":{"type":"point","filled":true,"size":24,"opacity":1},"encoding":{"y":{"field":"v","type":"quantitative","title":"Diameter Variation (%)"},"color":{"field":"g","type":"nominal","legend":null},"shape":{"field":"g","type":"nominal","scale":{"domain":["WC","WD","AC","AD"],"range":["circle","square","diamond","triangle-up"]},"legend":null}}}
   ]},
  {"width":103,"height":142,"title":"1 µM PE",
   "encoding":{"x":{"field":"g","type":"nominal","title":null,"scale":{"type":"point","domain":["WC","WD","G","AC","AD"],"padding":0.7},"axis":{"values":["WC","WD","AC","AD"],"labelAngle":0,"labelExpr":"datum.value=='WC'?['WT-','Ctrl']:datum.value=='WD'?['WT-','DB']:datum.value=='AC'?['a5/2','-Ctrl']:['a5/2','-DB']"}}},
   "layer":[
    {"data":{"name":"sm"},"transform":[{"filter":"datum.p=='B4'"}],"mark":{"type":"rule","strokeWidth":1.3,"opacity":0.7},"encoding":{"y":{"field":"lo","type":"quantitative","title":"Diameter Variation (%)","scale":{"domain":[-60,0]},"axis":{"values":[-60,-40,-20,0],"tickCount":10,"grid":true,"gridDash":[1.5,1.5],"gridColor":"#000","gridOpacity":{"condition":{"test":"datum.value===0","value":1},"value":0}}},"y2":{"field":"hi"},"color":{"field":"g","type":"nominal","scale":{"domain":["WC","WD","AC","AD"],"range":["#ff0000","#ff0000","#1fe81f","#1fe81f"]},"legend":null}}},
    {"data":{"name":"sm"},"transform":[{"filter":"datum.p=='B4'"},{"fold":["lo","hi"]}],"mark":{"type":"tick","orient":"horizontal","size":8,"thickness":1.3,"opacity":0.7},"encoding":{"y":{"field":"value","type":"quantitative","title":"Diameter Variation (%)"},"color":{"field":"g","type":"nominal","legend":null}}},
    {"data":{"name":"sm"},"transform":[{"filter":"datum.p=='B4'"}],"mark":{"type":"tick","orient":"horizontal","size":14,"thickness":1.6,"color":"#000","opacity":1},"encoding":{"y":{"field":"m","type":"quantitative","title":"Diameter Variation (%)"}}},
    {"data":{"name":"pts"},"transform":[{"filter":"datum.p=='B4'"}],"mark":{"type":"point","filled":true,"size":24,"opacity":1},"encoding":{"y":{"field":"v","type":"quantitative","title":"Diameter Variation (%)"},"color":{"field":"g","type":"nominal","legend":null},"shape":{"field":"g","type":"nominal","scale":{"domain":["WC","WD","AC","AD"],"range":["circle","square","diamond","triangle-up"]},"legend":null}}}
   ]},
  {"width":103,"height":142,"title":"100 µM Ach",
   "encoding":{"x":{"field":"g","type":"nominal","title":null,"scale":{"type":"point","domain":["WC","WD","G","AC","AD"],"padding":0.7},"axis":{"values":["WC","WD","AC","AD"],"labelAngle":0,"labelExpr":"datum.value=='WC'?['WT-','Ctrl']:datum.value=='WD'?['WT-','DB']:datum.value=='AC'?['a5/2','-Ctrl']:['a5/2','-DB']"}}},
   "layer":[
    {"data":{"name":"sm"},"transform":[{"filter":"datum.p=='B5'"}],"mark":{"type":"rule","strokeWidth":1.3,"opacity":0.7},"encoding":{"y":{"field":"lo","type":"quantitative","title":"Diameter Variation (%)","scale":{"domain":[0,60]},"axis":{"values":[0,20,40,60],"tickCount":10}},"y2":{"field":"hi"},"color":{"field":"g","type":"nominal","scale":{"domain":["WC","WD","AC","AD"],"range":["#ff0000","#ff0000","#1fe81f","#1fe81f"]},"legend":null}}},
    {"data":{"name":"sm"},"transform":[{"filter":"datum.p=='B5'"},{"fold":["lo","hi"]}],"mark":{"type":"tick","orient":"horizontal","size":8,"thickness":1.3,"opacity":0.7},"encoding":{"y":{"field":"value","type":"quantitative","title":"Diameter Variation (%)"},"color":{"field":"g","type":"nominal","legend":null}}},
    {"data":{"name":"sm"},"transform":[{"filter":"datum.p=='B5'"}],"mark":{"type":"tick","orient":"horizontal","size":14,"thickness":1.6,"color":"#000","opacity":1},"encoding":{"y":{"field":"m","type":"quantitative","title":"Diameter Variation (%)"}}},
    {"data":{"name":"pts"},"transform":[{"filter":"datum.p=='B5'"}],"mark":{"type":"point","filled":true,"size":24,"opacity":1},"encoding":{"y":{"field":"v","type":"quantitative","title":"Diameter Variation (%)"},"color":{"field":"g","type":"nominal","legend":null},"shape":{"field":"g","type":"nominal","scale":{"domain":["WC","WD","AC","AD"],"range":["circle","square","diamond","triangle-up"]},"legend":null}}}
   ]}
 ]},
 {"spacing":505,"hconcat":[
  {"width":18,"height":31,"data":{"values":[{}]},"mark":{"type":"text","text":"C","fontSize":22,"fontWeight":"bold","dx":-41}},
  {"width":139,"height":31,"view":{"stroke":"#000","strokeWidth":1.5},"data":{"values":[{}]},"mark":{"type":"text","text":"at p = 120 mmHg","fontSize":14,"fontWeight":"bold"}}
 ]},
 {"spacing":10,"resolve":{"scale":{"color":"independent","shape":"independent"}},"hconcat":[
  {"width":107,"height":153,
   "encoding":{"x":{"field":"g","type":"nominal","title":null,"scale":{"type":"point","domain":["WC","WD","G","AC","AD"],"padding":0.7},"axis":{"values":["WC","WD","AC","AD"],"labelAngle":0,"labelExpr":"datum.value=='WC'?['WT-','Ctrl']:datum.value=='WD'?['WT-','DB']:datum.value=='AC'?['a5/2','-Ctrl']:['a5/2','-DB']"}}},
   "layer":[
    {"data":{"name":"sm"},"transform":[{"filter":"datum.p=='C1'"}],"mark":{"type":"rule","strokeWidth":1.3,"opacity":0.7},"encoding":{"y":{"field":"lo","type":"quantitative","title":"Stored Energy (kPa)","scale":{"domain":[0,150]},"axis":{"values":[0,50,100,150],"tickCount":10}},"y2":{"field":"hi"},"color":{"field":"g","type":"nominal","scale":{"domain":["WC","WD","AC","AD"],"range":["#ff0000","#ff0000","#1fe81f","#1fe81f"]},"legend":null}}},
    {"data":{"name":"sm"},"transform":[{"filter":"datum.p=='C1'"},{"fold":["lo","hi"]}],"mark":{"type":"tick","orient":"horizontal","size":8,"thickness":1.3,"opacity":0.7},"encoding":{"y":{"field":"value","type":"quantitative","title":"Stored Energy (kPa)"},"color":{"field":"g","type":"nominal","legend":null}}},
    {"data":{"name":"sm"},"transform":[{"filter":"datum.p=='C1'"}],"mark":{"type":"tick","orient":"horizontal","size":14,"thickness":1.6,"color":"#000","opacity":1},"encoding":{"y":{"field":"m","type":"quantitative","title":"Stored Energy (kPa)"}}},
    {"data":{"name":"pts"},"transform":[{"filter":"datum.p=='C1'"}],"mark":{"type":"point","filled":true,"size":24,"opacity":1},"encoding":{"y":{"field":"v","type":"quantitative","title":"Stored Energy (kPa)"},"color":{"field":"g","type":"nominal","legend":null},"shape":{"field":"g","type":"nominal","scale":{"domain":["WC","WD","AC","AD"],"range":["circle","square","diamond","triangle-up"]},"legend":null}}},
    {"data":{"name":"br"},"transform":[{"filter":"datum.p=='C1'"}],"mark":{"type":"rule","strokeWidth":1,"color":"#444"},"encoding":{"x":{"field":"a","type":"nominal","title":null,"scale":{"type":"point","domain":["WC","WD","G","AC","AD"],"padding":0.7}},"x2":{"field":"b"},"y":{"field":"y","type":"quantitative","title":"Stored Energy (kPa)"}}},
    {"data":{"name":"br"},"transform":[{"filter":"datum.p=='C1'"},{"fold":["a","b"],"as":["k","e"]}],"mark":{"type":"rule","strokeWidth":1,"color":"#444","y2Offset":5},"encoding":{"x":{"field":"e","type":"nominal","title":null,"scale":{"type":"point","domain":["WC","WD","G","AC","AD"],"padding":0.7}},"y":{"field":"y","type":"quantitative","title":"Stored Energy (kPa)"},"y2":{"field":"y"}}},
    {"data":{"name":"br"},"transform":[{"filter":"datum.p=='C1' && datum.a=='WD'"}],"mark":{"type":"text","dx":29.7,"dy":-6,"fontSize":7.5,"color":"#222"},"encoding":{"x":{"field":"a","type":"nominal","title":null,"scale":{"type":"point","domain":["WC","WD","G","AC","AD"],"padding":0.7}},"y":{"field":"y","type":"quantitative","title":"Stored Energy (kPa)"},"text":{"field":"t"}}},
    {"data":{"name":"br"},"transform":[{"filter":"datum.p=='C1' && datum.a!='WD'"}],"mark":{"type":"text","dx":9.9,"dy":-6,"fontSize":7.5,"color":"#222"},"encoding":{"x":{"field":"a","type":"nominal","title":null,"scale":{"type":"point","domain":["WC","WD","G","AC","AD"],"padding":0.7}},"y":{"field":"y","type":"quantitative","title":"Stored Energy (kPa)"},"text":{"field":"t"}}}
   ]},
  {"width":107,"height":153,
   "encoding":{"x":{"field":"g","type":"nominal","title":null,"scale":{"type":"point","domain":["WC","WD","G","AC","AD"],"padding":0.7},"axis":{"values":["WC","WD","AC","AD"],"labelAngle":0,"labelExpr":"datum.value=='WC'?['WT-','Ctrl']:datum.value=='WD'?['WT-','DB']:datum.value=='AC'?['a5/2','-Ctrl']:['a5/2','-DB']"}}},
   "layer":[
    {"data":{"name":"sm"},"transform":[{"filter":"datum.p=='C2'"}],"mark":{"type":"rule","strokeWidth":1.3,"opacity":0.7},"encoding":{"y":{"field":"lo","type":"quantitative","title":"Axial Stiffness (MPa)","scale":{"domain":[0,4]},"axis":{"values":[0,1,2,3,4],"tickCount":10,"format":"d"}},"y2":{"field":"hi"},"color":{"field":"g","type":"nominal","scale":{"domain":["WC","WD","AC","AD"],"range":["#ff0000","#ff0000","#1fe81f","#1fe81f"]},"legend":null}}},
    {"data":{"name":"sm"},"transform":[{"filter":"datum.p=='C2'"},{"fold":["lo","hi"]}],"mark":{"type":"tick","orient":"horizontal","size":8,"thickness":1.3,"opacity":0.7},"encoding":{"y":{"field":"value","type":"quantitative","title":"Axial Stiffness (MPa)"},"color":{"field":"g","type":"nominal","legend":null}}},
    {"data":{"name":"sm"},"transform":[{"filter":"datum.p=='C2'"}],"mark":{"type":"tick","orient":"horizontal","size":14,"thickness":1.6,"color":"#000","opacity":1},"encoding":{"y":{"field":"m","type":"quantitative","title":"Axial Stiffness (MPa)"}}},
    {"data":{"name":"pts"},"transform":[{"filter":"datum.p=='C2'"}],"mark":{"type":"point","filled":true,"size":24,"opacity":1},"encoding":{"y":{"field":"v","type":"quantitative","title":"Axial Stiffness (MPa)"},"color":{"field":"g","type":"nominal","legend":null},"shape":{"field":"g","type":"nominal","scale":{"domain":["WC","WD","AC","AD"],"range":["circle","square","diamond","triangle-up"]},"legend":null}}},
    {"data":{"name":"br"},"transform":[{"filter":"datum.p=='C2'"}],"mark":{"type":"rule","strokeWidth":1,"color":"#444"},"encoding":{"x":{"field":"a","type":"nominal","title":null,"scale":{"type":"point","domain":["WC","WD","G","AC","AD"],"padding":0.7}},"x2":{"field":"b"},"y":{"field":"y","type":"quantitative","title":"Axial Stiffness (MPa)"}}},
    {"data":{"name":"br"},"transform":[{"filter":"datum.p=='C2'"},{"fold":["a","b"],"as":["k","e"]}],"mark":{"type":"rule","strokeWidth":1,"color":"#444","y2Offset":5},"encoding":{"x":{"field":"e","type":"nominal","title":null,"scale":{"type":"point","domain":["WC","WD","G","AC","AD"],"padding":0.7}},"y":{"field":"y","type":"quantitative","title":"Axial Stiffness (MPa)"},"y2":{"field":"y"}}},
    {"data":{"name":"br"},"transform":[{"filter":"datum.p=='C2' && datum.b=='AD'"}],"mark":{"type":"text","dx":29.7,"dy":-6,"fontSize":7.5,"color":"#222"},"encoding":{"x":{"field":"a","type":"nominal","title":null,"scale":{"type":"point","domain":["WC","WD","G","AC","AD"],"padding":0.7}},"y":{"field":"y","type":"quantitative","title":"Axial Stiffness (MPa)"},"text":{"field":"t"}}},
    {"data":{"name":"br"},"transform":[{"filter":"datum.p=='C2' && datum.b=='AC'"}],"mark":{"type":"text","dx":19.8,"dy":-6,"fontSize":7.5,"color":"#222"},"encoding":{"x":{"field":"a","type":"nominal","title":null,"scale":{"type":"point","domain":["WC","WD","G","AC","AD"],"padding":0.7}},"y":{"field":"y","type":"quantitative","title":"Axial Stiffness (MPa)"},"text":{"field":"t"}}}
   ]},
  {"width":107,"height":153,
   "encoding":{"x":{"field":"g","type":"nominal","title":null,"scale":{"type":"point","domain":["WC","WD","G","AC","AD"],"padding":0.7},"axis":{"values":["WC","WD","AC","AD"],"labelAngle":0,"labelExpr":"datum.value=='WC'?['WT-','Ctrl']:datum.value=='WD'?['WT-','DB']:datum.value=='AC'?['a5/2','-Ctrl']:['a5/2','-DB']"}}},
   "layer":[
    {"data":{"name":"sm"},"transform":[{"filter":"datum.p=='C3'"}],"mark":{"type":"rule","strokeWidth":1.3,"opacity":0.7},"encoding":{"y":{"field":"lo","type":"quantitative","title":"Loaded Outer Diameter (µm)","scale":{"domain":[0,900]},"axis":{"values":[0,300,600,900],"tickCount":10}},"y2":{"field":"hi"},"color":{"field":"g","type":"nominal","scale":{"domain":["WC","WD","AC","AD"],"range":["#ff0000","#ff0000","#1fe81f","#1fe81f"]},"legend":null}}},
    {"data":{"name":"sm"},"transform":[{"filter":"datum.p=='C3'"},{"fold":["lo","hi"]}],"mark":{"type":"tick","orient":"horizontal","size":8,"thickness":1.3,"opacity":0.7},"encoding":{"y":{"field":"value","type":"quantitative","title":"Loaded Outer Diameter (µm)"},"color":{"field":"g","type":"nominal","legend":null}}},
    {"data":{"name":"sm"},"transform":[{"filter":"datum.p=='C3'"}],"mark":{"type":"tick","orient":"horizontal","size":14,"thickness":1.6,"color":"#000","opacity":1},"encoding":{"y":{"field":"m","type":"quantitative","title":"Loaded Outer Diameter (µm)"}}},
    {"data":{"name":"pts"},"transform":[{"filter":"datum.p=='C3'"}],"mark":{"type":"point","filled":true,"size":24,"opacity":1},"encoding":{"y":{"field":"v","type":"quantitative","title":"Loaded Outer Diameter (µm)"},"color":{"field":"g","type":"nominal","legend":null},"shape":{"field":"g","type":"nominal","scale":{"domain":["WC","WD","AC","AD"],"range":["circle","square","diamond","triangle-up"]},"legend":null}}}
   ]},
  {"width":107,"height":153,
   "encoding":{"x":{"field":"g","type":"nominal","title":null,"scale":{"type":"point","domain":["WC","WD","G","AC","AD"],"padding":0.7},"axis":{"values":["WC","WD","AC","AD"],"labelAngle":0,"labelExpr":"datum.value=='WC'?['WT-','Ctrl']:datum.value=='WD'?['WT-','DB']:datum.value=='AC'?['a5/2','-Ctrl']:['a5/2','-DB']"}}},
   "layer":[
    {"data":{"name":"sm"},"transform":[{"filter":"datum.p=='C4'"}],"mark":{"type":"rule","strokeWidth":1.3,"opacity":0.7},"encoding":{"y":{"field":"lo","type":"quantitative","title":"Loaded Thickness (µm)","scale":{"domain":[0,30]},"axis":{"values":[0,10,20,30],"tickCount":10}},"y2":{"field":"hi"},"color":{"field":"g","type":"nominal","scale":{"domain":["WC","WD","AC","AD"],"range":["#ff0000","#ff0000","#1fe81f","#1fe81f"]},"legend":null}}},
    {"data":{"name":"sm"},"transform":[{"filter":"datum.p=='C4'"},{"fold":["lo","hi"]}],"mark":{"type":"tick","orient":"horizontal","size":8,"thickness":1.3,"opacity":0.7},"encoding":{"y":{"field":"value","type":"quantitative","title":"Loaded Thickness (µm)"},"color":{"field":"g","type":"nominal","legend":null}}},
    {"data":{"name":"sm"},"transform":[{"filter":"datum.p=='C4'"}],"mark":{"type":"tick","orient":"horizontal","size":14,"thickness":1.6,"color":"#000","opacity":1},"encoding":{"y":{"field":"m","type":"quantitative","title":"Loaded Thickness (µm)"}}},
    {"data":{"name":"pts"},"transform":[{"filter":"datum.p=='C4'"}],"mark":{"type":"point","filled":true,"size":24,"opacity":1},"encoding":{"y":{"field":"v","type":"quantitative","title":"Loaded Thickness (µm)"},"color":{"field":"g","type":"nominal","legend":null},"shape":{"field":"g","type":"nominal","scale":{"domain":["WC","WD","AC","AD"],"range":["circle","square","diamond","triangle-up"]},"legend":null}}}
   ]},
  {"width":107,"height":153,
   "encoding":{"x":{"field":"g","type":"nominal","title":null,"scale":{"type":"point","domain":["WC","WD","G","AC","AD"],"padding":0.7},"axis":{"values":["WC","WD","AC","AD"],"labelAngle":0,"labelExpr":"datum.value=='WC'?['WT-','Ctrl']:datum.value=='WD'?['WT-','DB']:datum.value=='AC'?['a5/2','-Ctrl']:['a5/2','-DB']"}}},
   "layer":[
    {"data":{"name":"sm"},"transform":[{"filter":"datum.p=='C5'"}],"mark":{"type":"rule","strokeWidth":1.3,"opacity":0.7},"encoding":{"y":{"field":"lo","type":"quantitative","title":"Distensibility (MPa⁻¹)","scale":{"domain":[0,60]},"axis":{"values":[0,20,40,60],"tickCount":10}},"y2":{"field":"hi"},"color":{"field":"g","type":"nominal","scale":{"domain":["WC","WD","AC","AD"],"range":["#ff0000","#ff0000","#1fe81f","#1fe81f"]},"legend":null}}},
    {"data":{"name":"sm"},"transform":[{"filter":"datum.p=='C5'"},{"fold":["lo","hi"]}],"mark":{"type":"tick","orient":"horizontal","size":8,"thickness":1.3,"opacity":0.7},"encoding":{"y":{"field":"value","type":"quantitative","title":"Distensibility (MPa⁻¹)"},"color":{"field":"g","type":"nominal","legend":null}}},
    {"data":{"name":"sm"},"transform":[{"filter":"datum.p=='C5'"}],"mark":{"type":"tick","orient":"horizontal","size":14,"thickness":1.6,"color":"#000","opacity":1},"encoding":{"y":{"field":"m","type":"quantitative","title":"Distensibility (MPa⁻¹)"}}},
    {"data":{"name":"pts"},"transform":[{"filter":"datum.p=='C5'"}],"mark":{"type":"point","filled":true,"size":24,"opacity":1},"encoding":{"y":{"field":"v","type":"quantitative","title":"Distensibility (MPa⁻¹)"},"color":{"field":"g","type":"nominal","legend":null},"shape":{"field":"g","type":"nominal","scale":{"domain":["WC","WD","AC","AD"],"range":["circle","square","diamond","triangle-up"]},"legend":null}}}
   ]}
 ]}
]},
 {"spacing":10,"resolve":{"scale":{"color":"independent","shape":"independent"}},"hconcat":[
  {"width":107,"height":152,
   "encoding":{"x":{"field":"g","type":"nominal","title":null,"scale":{"type":"point","domain":["WC","WD","G","AC","AD"],"padding":0.7},"axis":{"values":["WC","WD","AC","AD"],"labelAngle":0,"labelExpr":"datum.value=='WC'?['WT-','Ctrl']:datum.value=='WD'?['WT-','DB']:datum.value=='AC'?['a5/2','-Ctrl']:['a5/2','-DB']"}}},
   "layer":[
    {"data":{"name":"sm"},"transform":[{"filter":"datum.p=='C6'"}],"mark":{"type":"rule","strokeWidth":1.3,"opacity":0.7},"encoding":{"y":{"field":"lo","type":"quantitative","title":"Axial Stretch (-)","scale":{"domain":[1,2.5]},"axis":{"values":[1,1.5,2,2.5],"tickCount":10,"format":".1f"}},"y2":{"field":"hi"},"color":{"field":"g","type":"nominal","scale":{"domain":["WC","WD","AC","AD"],"range":["#ff0000","#ff0000","#1fe81f","#1fe81f"]},"legend":null}}},
    {"data":{"name":"sm"},"transform":[{"filter":"datum.p=='C6'"},{"fold":["lo","hi"]}],"mark":{"type":"tick","orient":"horizontal","size":8,"thickness":1.3,"opacity":0.7},"encoding":{"y":{"field":"value","type":"quantitative","title":"Axial Stretch (-)"},"color":{"field":"g","type":"nominal","legend":null}}},
    {"data":{"name":"sm"},"transform":[{"filter":"datum.p=='C6'"}],"mark":{"type":"tick","orient":"horizontal","size":14,"thickness":1.6,"color":"#000","opacity":1},"encoding":{"y":{"field":"m","type":"quantitative","title":"Axial Stretch (-)"}}},
    {"data":{"name":"pts"},"transform":[{"filter":"datum.p=='C6'"}],"mark":{"type":"point","filled":true,"size":24,"opacity":1},"encoding":{"y":{"field":"v","type":"quantitative","title":"Axial Stretch (-)"},"color":{"field":"g","type":"nominal","legend":null},"shape":{"field":"g","type":"nominal","scale":{"domain":["WC","WD","AC","AD"],"range":["circle","square","diamond","triangle-up"]},"legend":null}}}
   ]},
  {"width":107,"height":152,
   "encoding":{"x":{"field":"g","type":"nominal","title":null,"scale":{"type":"point","domain":["WC","WD","G","AC","AD"],"padding":0.7},"axis":{"values":["WC","WD","AC","AD"],"labelAngle":0,"labelExpr":"datum.value=='WC'?['WT-','Ctrl']:datum.value=='WD'?['WT-','DB']:datum.value=='AC'?['a5/2','-Ctrl']:['a5/2','-DB']"}}},
   "layer":[
    {"data":{"name":"sm"},"transform":[{"filter":"datum.p=='C7'"}],"mark":{"type":"rule","strokeWidth":1.3,"opacity":0.7},"encoding":{"y":{"field":"lo","type":"quantitative","title":"Circ. Stretch (-)","scale":{"domain":[1,2.5]},"axis":{"values":[1,1.5,2,2.5],"tickCount":10,"format":".1f"}},"y2":{"field":"hi"},"color":{"field":"g","type":"nominal","scale":{"domain":["WC","WD","AC","AD"],"range":["#ff0000","#ff0000","#1fe81f","#1fe81f"]},"legend":null}}},
    {"data":{"name":"sm"},"transform":[{"filter":"datum.p=='C7'"},{"fold":["lo","hi"]}],"mark":{"type":"tick","orient":"horizontal","size":8,"thickness":1.3,"opacity":0.7},"encoding":{"y":{"field":"value","type":"quantitative","title":"Circ. Stretch (-)"},"color":{"field":"g","type":"nominal","legend":null}}},
    {"data":{"name":"sm"},"transform":[{"filter":"datum.p=='C7'"}],"mark":{"type":"tick","orient":"horizontal","size":14,"thickness":1.6,"color":"#000","opacity":1},"encoding":{"y":{"field":"m","type":"quantitative","title":"Circ. Stretch (-)"}}},
    {"data":{"name":"pts"},"transform":[{"filter":"datum.p=='C7'"}],"mark":{"type":"point","filled":true,"size":24,"opacity":1},"encoding":{"y":{"field":"v","type":"quantitative","title":"Circ. Stretch (-)"},"color":{"field":"g","type":"nominal","legend":null},"shape":{"field":"g","type":"nominal","scale":{"domain":["WC","WD","AC","AD"],"range":["circle","square","diamond","triangle-up"]},"legend":null}}}
   ]},
  {"width":107,"height":152,
   "encoding":{"x":{"field":"g","type":"nominal","title":null,"scale":{"type":"point","domain":["WC","WD","G","AC","AD"],"padding":0.7},"axis":{"values":["WC","WD","AC","AD"],"labelAngle":0,"labelExpr":"datum.value=='WC'?['WT-','Ctrl']:datum.value=='WD'?['WT-','DB']:datum.value=='AC'?['a5/2','-Ctrl']:['a5/2','-DB']"}}},
   "layer":[
    {"data":{"name":"sm"},"transform":[{"filter":"datum.p=='C8'"}],"mark":{"type":"rule","strokeWidth":1.3,"opacity":0.7},"encoding":{"y":{"field":"lo","type":"quantitative","title":"Axial Stress (kPa)","scale":{"domain":[0,600]},"axis":{"values":[0,200,400,600],"tickCount":10}},"y2":{"field":"hi"},"color":{"field":"g","type":"nominal","scale":{"domain":["WC","WD","AC","AD"],"range":["#ff0000","#ff0000","#1fe81f","#1fe81f"]},"legend":null}}},
    {"data":{"name":"sm"},"transform":[{"filter":"datum.p=='C8'"},{"fold":["lo","hi"]}],"mark":{"type":"tick","orient":"horizontal","size":8,"thickness":1.3,"opacity":0.7},"encoding":{"y":{"field":"value","type":"quantitative","title":"Axial Stress (kPa)"},"color":{"field":"g","type":"nominal","legend":null}}},
    {"data":{"name":"sm"},"transform":[{"filter":"datum.p=='C8'"}],"mark":{"type":"tick","orient":"horizontal","size":14,"thickness":1.6,"color":"#000","opacity":1},"encoding":{"y":{"field":"m","type":"quantitative","title":"Axial Stress (kPa)"}}},
    {"data":{"name":"pts"},"transform":[{"filter":"datum.p=='C8'"}],"mark":{"type":"point","filled":true,"size":24,"opacity":1},"encoding":{"y":{"field":"v","type":"quantitative","title":"Axial Stress (kPa)"},"color":{"field":"g","type":"nominal","legend":null},"shape":{"field":"g","type":"nominal","scale":{"domain":["WC","WD","AC","AD"],"range":["circle","square","diamond","triangle-up"]},"legend":null}}}
   ]},
  {"width":107,"height":152,
   "encoding":{"x":{"field":"g","type":"nominal","title":null,"scale":{"type":"point","domain":["WC","WD","G","AC","AD"],"padding":0.7},"axis":{"values":["WC","WD","AC","AD"],"labelAngle":0,"labelExpr":"datum.value=='WC'?['WT-','Ctrl']:datum.value=='WD'?['WT-','DB']:datum.value=='AC'?['a5/2','-Ctrl']:['a5/2','-DB']"}}},
   "layer":[
    {"data":{"name":"sm"},"transform":[{"filter":"datum.p=='C9'"}],"mark":{"type":"rule","strokeWidth":1.3,"opacity":0.7},"encoding":{"y":{"field":"lo","type":"quantitative","title":"Circ. Stress (kPa)","scale":{"domain":[0,600]},"axis":{"values":[0,200,400,600],"tickCount":10}},"y2":{"field":"hi"},"color":{"field":"g","type":"nominal","scale":{"domain":["WC","WD","AC","AD"],"range":["#ff0000","#ff0000","#1fe81f","#1fe81f"]},"legend":null}}},
    {"data":{"name":"sm"},"transform":[{"filter":"datum.p=='C9'"},{"fold":["lo","hi"]}],"mark":{"type":"tick","orient":"horizontal","size":8,"thickness":1.3,"opacity":0.7},"encoding":{"y":{"field":"value","type":"quantitative","title":"Circ. Stress (kPa)"},"color":{"field":"g","type":"nominal","legend":null}}},
    {"data":{"name":"sm"},"transform":[{"filter":"datum.p=='C9'"}],"mark":{"type":"tick","orient":"horizontal","size":14,"thickness":1.6,"color":"#000","opacity":1},"encoding":{"y":{"field":"m","type":"quantitative","title":"Circ. Stress (kPa)"}}},
    {"data":{"name":"pts"},"transform":[{"filter":"datum.p=='C9'"}],"mark":{"type":"point","filled":true,"size":24,"opacity":1},"encoding":{"y":{"field":"v","type":"quantitative","title":"Circ. Stress (kPa)"},"color":{"field":"g","type":"nominal","legend":null},"shape":{"field":"g","type":"nominal","scale":{"domain":["WC","WD","AC","AD"],"range":["circle","square","diamond","triangle-up"]},"legend":null}}}
   ]},
  {"width":107,"height":152,
   "encoding":{"x":{"field":"g","type":"nominal","title":null,"scale":{"type":"point","domain":["WC","WD","G","AC","AD"],"padding":0.7},"axis":{"values":["WC","WD","AC","AD"],"labelAngle":0,"labelExpr":"datum.value=='WC'?['WT-','Ctrl']:datum.value=='WD'?['WT-','DB']:datum.value=='AC'?['a5/2','-Ctrl']:['a5/2','-DB']"}}},
   "layer":[
    {"data":{"name":"sm"},"transform":[{"filter":"datum.p=='C10'"}],"mark":{"type":"rule","strokeWidth":1.3,"opacity":0.7},"encoding":{"y":{"field":"lo","type":"quantitative","title":"Circ. Stiffness (MPa)","scale":{"domain":[0,4]},"axis":{"values":[0,1,2,3,4],"tickCount":10,"format":"d"}},"y2":{"field":"hi"},"color":{"field":"g","type":"nominal","scale":{"domain":["WC","WD","AC","AD"],"range":["#ff0000","#ff0000","#1fe81f","#1fe81f"]},"legend":null}}},
    {"data":{"name":"sm"},"transform":[{"filter":"datum.p=='C10'"},{"fold":["lo","hi"]}],"mark":{"type":"tick","orient":"horizontal","size":8,"thickness":1.3,"opacity":0.7},"encoding":{"y":{"field":"value","type":"quantitative","title":"Circ. Stiffness (MPa)"},"color":{"field":"g","type":"nominal","legend":null}}},
    {"data":{"name":"sm"},"transform":[{"filter":"datum.p=='C10'"}],"mark":{"type":"tick","orient":"horizontal","size":14,"thickness":1.6,"color":"#000","opacity":1},"encoding":{"y":{"field":"m","type":"quantitative","title":"Circ. Stiffness (MPa)"}}},
    {"data":{"name":"pts"},"transform":[{"filter":"datum.p=='C10'"}],"mark":{"type":"point","filled":true,"size":24,"opacity":1},"encoding":{"y":{"field":"v","type":"quantitative","title":"Circ. Stiffness (MPa)"},"color":{"field":"g","type":"nominal","legend":null},"shape":{"field":"g","type":"nominal","scale":{"domain":["WC","WD","AC","AD"],"range":["circle","square","diamond","triangle-up"]},"legend":null}}}
   ]}
 ]}
]
}
